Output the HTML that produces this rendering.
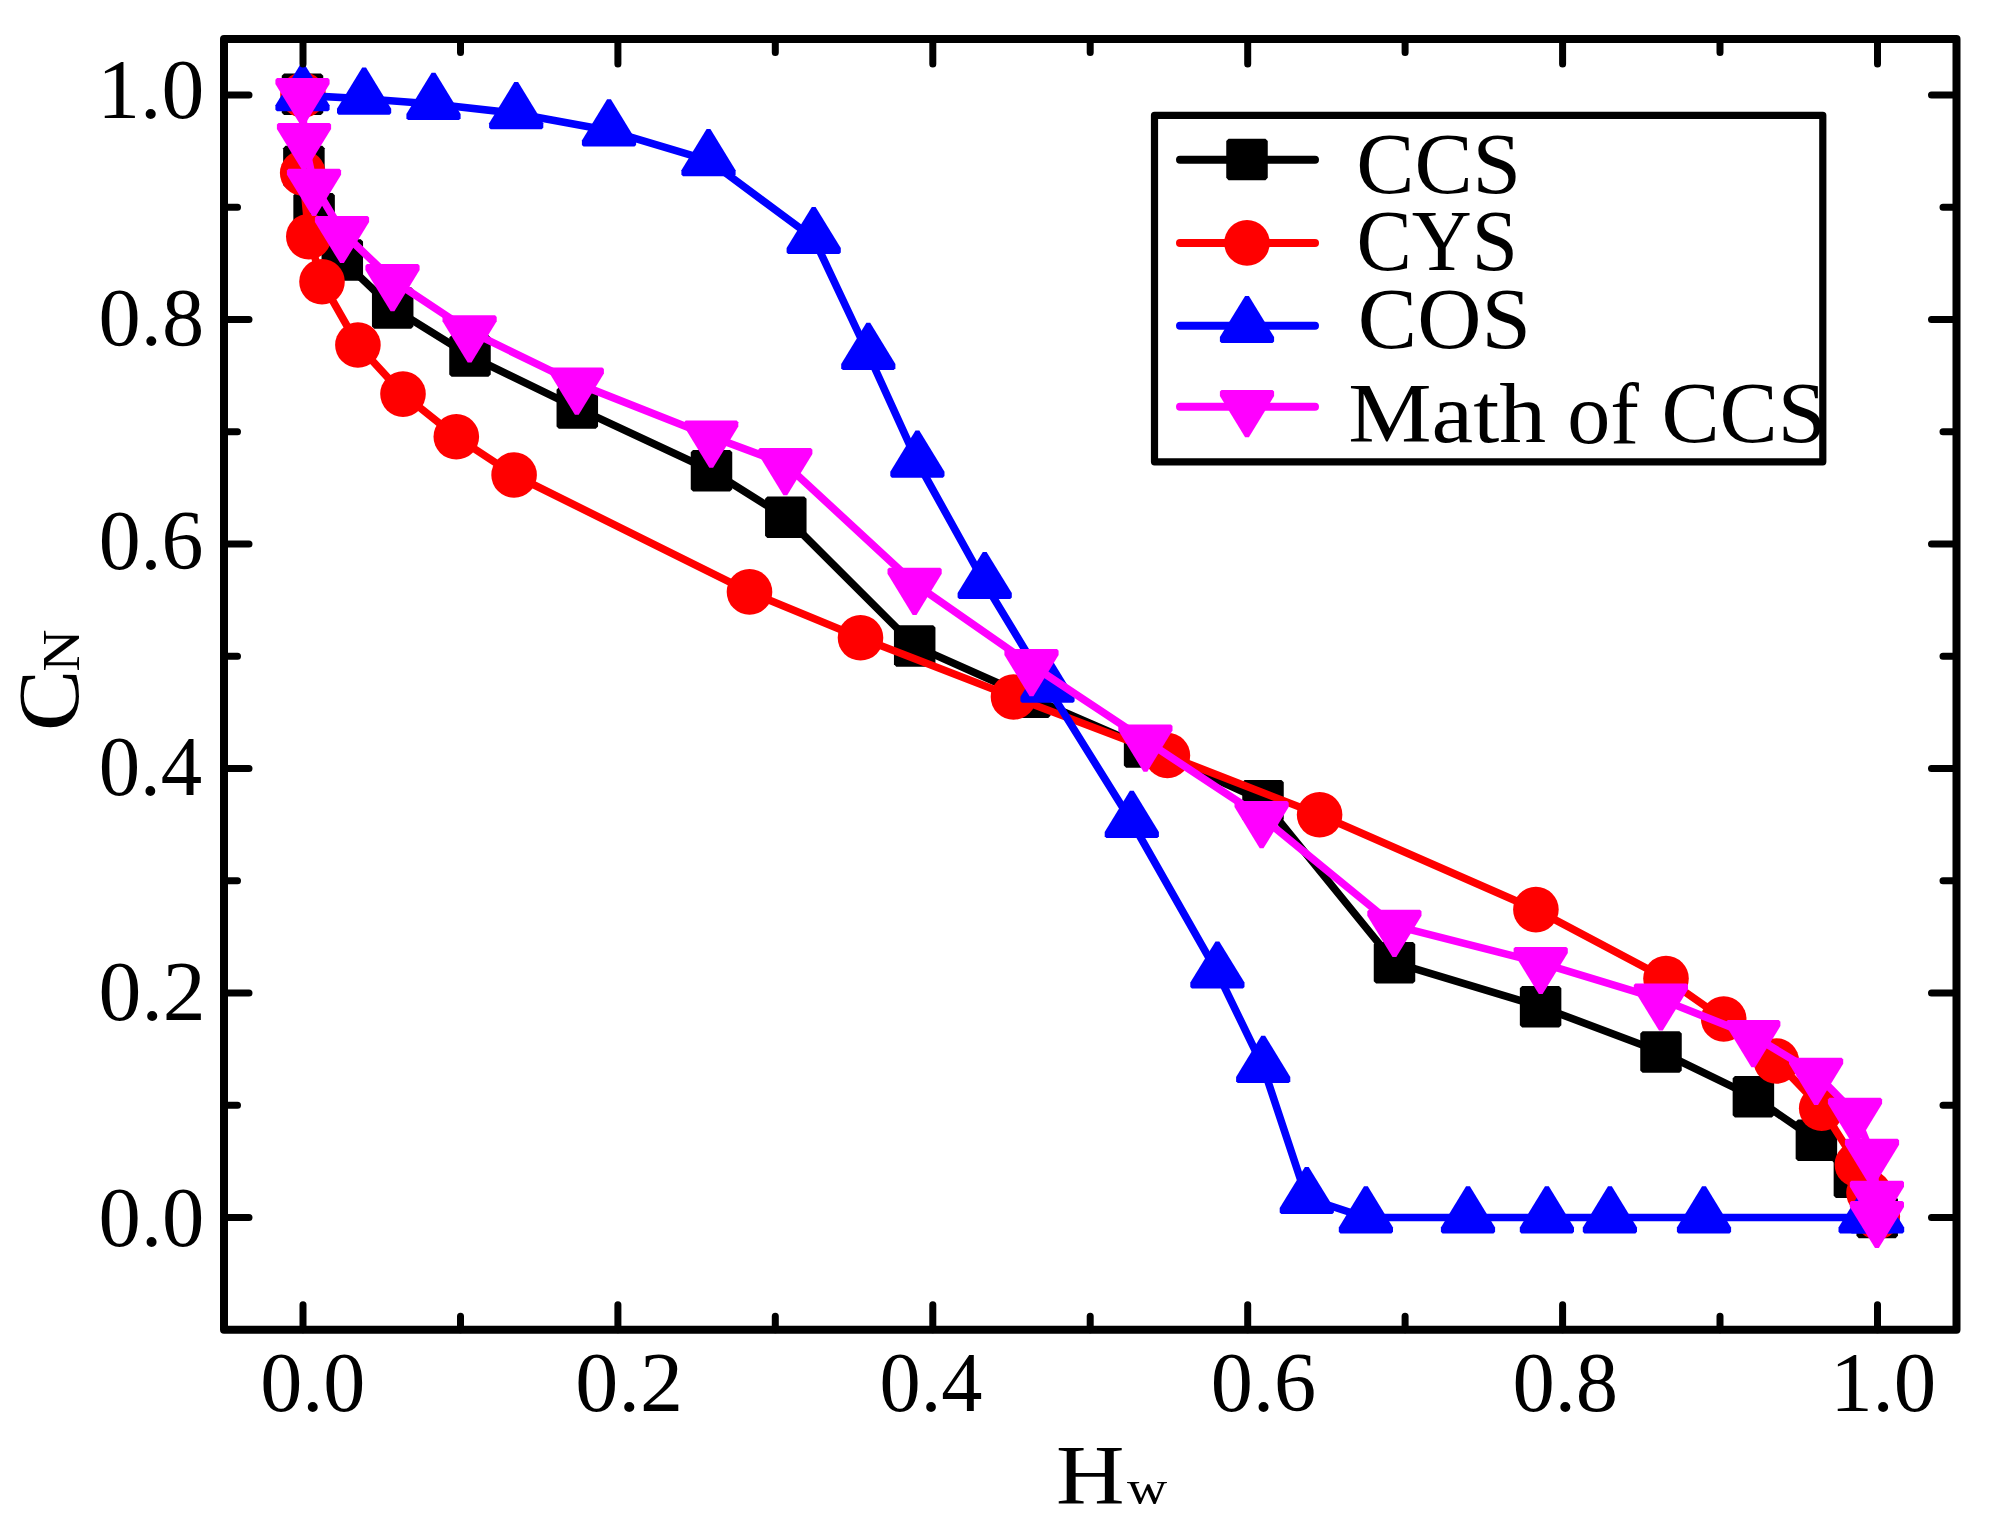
<!DOCTYPE html><html><head><meta charset="utf-8"><title>CN vs Hw</title><style>html,body{margin:0;padding:0;background:#fff;overflow:hidden}svg{display:block}text{font-family:"Liberation Serif","DejaVu Serif",serif;font-size:200px;fill:#000}</style></head><body>
<svg width="1989" height="1528" viewBox="0 0 1989 1528">
<rect width="1989" height="1528" fill="#fff"/>
<polyline points="302.5,94.3 303.9,166.6 314.1,213.7 342.3,260.0 392.7,308.0 470.0,356.0 577.3,408.1 711.5,470.8 785.8,517.3 914.7,645.9 1029.8,697.3 1144.6,747.0 1263.0,800.8 1394.5,962.7 1540.6,1006.7 1661.0,1052.0 1753.4,1096.8 1816.4,1140.2 1854.4,1177.3 1877.2,1217.4" fill="none" stroke="#000" stroke-width="7.6" stroke-linejoin="round" stroke-linecap="round"/>
<polygon points="284.05,73.55 320.95,73.55 323.25,75.85 323.25,112.75 320.95,115.05 284.05,115.05 281.75,112.75 281.75,75.85" fill="#000"/><polygon points="285.45,145.85 322.35,145.85 324.65,148.15 324.65,185.05 322.35,187.35 285.45,187.35 283.15,185.05 283.15,148.15" fill="#000"/><polygon points="295.65,192.95 332.55,192.95 334.85,195.25 334.85,232.15 332.55,234.45 295.65,234.45 293.35,232.15 293.35,195.25" fill="#000"/><polygon points="323.85,239.25 360.75,239.25 363.05,241.55 363.05,278.45 360.75,280.75 323.85,280.75 321.55,278.45 321.55,241.55" fill="#000"/><polygon points="374.25,287.25 411.15,287.25 413.45,289.55 413.45,326.45 411.15,328.75 374.25,328.75 371.95,326.45 371.95,289.55" fill="#000"/><polygon points="451.55,335.25 488.45,335.25 490.75,337.55 490.75,374.45 488.45,376.75 451.55,376.75 449.25,374.45 449.25,337.55" fill="#000"/><polygon points="558.85,387.35 595.75,387.35 598.05,389.65 598.05,426.55 595.75,428.85 558.85,428.85 556.55,426.55 556.55,389.65" fill="#000"/><polygon points="693.05,450.05 729.95,450.05 732.25,452.35 732.25,489.25 729.95,491.55 693.05,491.55 690.75,489.25 690.75,452.35" fill="#000"/><polygon points="767.35,496.55 804.25,496.55 806.55,498.85 806.55,535.75 804.25,538.05 767.35,538.05 765.05,535.75 765.05,498.85" fill="#000"/><polygon points="896.25,625.15 933.15,625.15 935.45,627.45 935.45,664.35 933.15,666.65 896.25,666.65 893.95,664.35 893.95,627.45" fill="#000"/><polygon points="1011.35,676.55 1048.25,676.55 1050.55,678.85 1050.55,715.75 1048.25,718.05 1011.35,718.05 1009.05,715.75 1009.05,678.85" fill="#000"/><polygon points="1126.15,726.25 1163.05,726.25 1165.35,728.55 1165.35,765.45 1163.05,767.75 1126.15,767.75 1123.85,765.45 1123.85,728.55" fill="#000"/><polygon points="1244.55,780.05 1281.45,780.05 1283.75,782.35 1283.75,819.25 1281.45,821.55 1244.55,821.55 1242.25,819.25 1242.25,782.35" fill="#000"/><polygon points="1376.05,941.95 1412.95,941.95 1415.25,944.25 1415.25,981.15 1412.95,983.45 1376.05,983.45 1373.75,981.15 1373.75,944.25" fill="#000"/><polygon points="1522.15,985.95 1559.05,985.95 1561.35,988.25 1561.35,1025.15 1559.05,1027.45 1522.15,1027.45 1519.85,1025.15 1519.85,988.25" fill="#000"/><polygon points="1642.55,1031.25 1679.45,1031.25 1681.75,1033.55 1681.75,1070.45 1679.45,1072.75 1642.55,1072.75 1640.25,1070.45 1640.25,1033.55" fill="#000"/><polygon points="1734.95,1076.05 1771.85,1076.05 1774.15,1078.35 1774.15,1115.25 1771.85,1117.55 1734.95,1117.55 1732.65,1115.25 1732.65,1078.35" fill="#000"/><polygon points="1797.95,1119.45 1834.85,1119.45 1837.15,1121.75 1837.15,1158.65 1834.85,1160.95 1797.95,1160.95 1795.65,1158.65 1795.65,1121.75" fill="#000"/><polygon points="1835.95,1156.55 1872.85,1156.55 1875.15,1158.85 1875.15,1195.75 1872.85,1198.05 1835.95,1198.05 1833.65,1195.75 1833.65,1158.85" fill="#000"/><polygon points="1858.75,1196.65 1895.65,1196.65 1897.95,1198.95 1897.95,1235.85 1895.65,1238.15 1858.75,1238.15 1856.45,1235.85 1856.45,1198.95" fill="#000"/>
<polyline points="303.0,95.0 302.7,173.0 308.8,236.6 322.0,281.8 357.9,345.0 403.0,394.1 456.3,436.8 514.1,475.0 749.5,591.9 860.5,637.8 1013.5,697.0 1167.4,755.5 1319.6,814.8 1535.9,909.6 1666.0,978.6 1723.7,1019.0 1776.3,1061.0 1821.7,1108.3 1857.4,1164.5 1869.0,1193.0 1877.3,1216.6" fill="none" stroke="#f00" stroke-width="7.6" stroke-linejoin="round" stroke-linecap="round"/>
<circle cx="303.0" cy="95.0" r="22.8" fill="#f00"/><circle cx="302.7" cy="173.0" r="22.8" fill="#f00"/><circle cx="308.8" cy="236.6" r="22.8" fill="#f00"/><circle cx="322.0" cy="281.8" r="22.8" fill="#f00"/><circle cx="357.9" cy="345.0" r="22.8" fill="#f00"/><circle cx="403.0" cy="394.1" r="22.8" fill="#f00"/><circle cx="456.3" cy="436.8" r="22.8" fill="#f00"/><circle cx="514.1" cy="475.0" r="22.8" fill="#f00"/><circle cx="749.5" cy="591.9" r="22.8" fill="#f00"/><circle cx="860.5" cy="637.8" r="22.8" fill="#f00"/><circle cx="1013.5" cy="697.0" r="22.8" fill="#f00"/><circle cx="1167.4" cy="755.5" r="22.8" fill="#f00"/><circle cx="1319.6" cy="814.8" r="22.8" fill="#f00"/><circle cx="1535.9" cy="909.6" r="22.8" fill="#f00"/><circle cx="1666.0" cy="978.6" r="22.8" fill="#f00"/><circle cx="1723.7" cy="1019.0" r="22.8" fill="#f00"/><circle cx="1776.3" cy="1061.0" r="22.8" fill="#f00"/><circle cx="1821.7" cy="1108.3" r="22.8" fill="#f00"/><circle cx="1857.4" cy="1164.5" r="22.8" fill="#f00"/><circle cx="1869.0" cy="1193.0" r="22.8" fill="#f00"/><circle cx="1877.3" cy="1216.6" r="22.8" fill="#f00"/>
<polyline points="302.5,95.4 364.1,98.8 433.5,104.0 516.2,113.4 609.0,130.6 708.5,160.3 813.7,238.2 868.3,354.0 917.4,461.8 984.7,583.2 1047.5,686.9 1131.8,822.0 1217.4,972.7 1263.2,1067.0 1306.8,1198.2 1365.9,1217.5 1468.0,1217.5 1546.9,1217.5 1609.9,1217.5 1704.0,1217.5 1865.6,1217.5 1877.1,1217.5" fill="none" stroke="#00f" stroke-width="7.6" stroke-linejoin="round" stroke-linecap="round"/>
<polygon points="300.60,64.10 304.40,64.10 329.60,105.30 329.60,109.70 328.00,111.30 277.00,111.30 275.40,109.70 275.40,105.30" fill="#00f"/><polygon points="362.20,67.50 366.00,67.50 391.20,108.70 391.20,113.10 389.60,114.70 338.60,114.70 337.00,113.10 337.00,108.70" fill="#00f"/><polygon points="431.60,72.70 435.40,72.70 460.60,113.90 460.60,118.30 459.00,119.90 408.00,119.90 406.40,118.30 406.40,113.90" fill="#00f"/><polygon points="514.30,82.10 518.10,82.10 543.30,123.30 543.30,127.70 541.70,129.30 490.70,129.30 489.10,127.70 489.10,123.30" fill="#00f"/><polygon points="607.10,99.30 610.90,99.30 636.10,140.50 636.10,144.90 634.50,146.50 583.50,146.50 581.90,144.90 581.90,140.50" fill="#00f"/><polygon points="706.60,129.00 710.40,129.00 735.60,170.20 735.60,174.60 734.00,176.20 683.00,176.20 681.40,174.60 681.40,170.20" fill="#00f"/><polygon points="811.80,206.90 815.60,206.90 840.80,248.10 840.80,252.50 839.20,254.10 788.20,254.10 786.60,252.50 786.60,248.10" fill="#00f"/><polygon points="866.40,322.70 870.20,322.70 895.40,363.90 895.40,368.30 893.80,369.90 842.80,369.90 841.20,368.30 841.20,363.90" fill="#00f"/><polygon points="915.50,430.50 919.30,430.50 944.50,471.70 944.50,476.10 942.90,477.70 891.90,477.70 890.30,476.10 890.30,471.70" fill="#00f"/><polygon points="982.80,551.90 986.60,551.90 1011.80,593.10 1011.80,597.50 1010.20,599.10 959.20,599.10 957.60,597.50 957.60,593.10" fill="#00f"/><polygon points="1045.60,655.60 1049.40,655.60 1074.60,696.80 1074.60,701.20 1073.00,702.80 1022.00,702.80 1020.40,701.20 1020.40,696.80" fill="#00f"/><polygon points="1129.90,790.70 1133.70,790.70 1158.90,831.90 1158.90,836.30 1157.30,837.90 1106.30,837.90 1104.70,836.30 1104.70,831.90" fill="#00f"/><polygon points="1215.50,941.40 1219.30,941.40 1244.50,982.60 1244.50,987.00 1242.90,988.60 1191.90,988.60 1190.30,987.00 1190.30,982.60" fill="#00f"/><polygon points="1261.30,1035.70 1265.10,1035.70 1290.30,1076.90 1290.30,1081.30 1288.70,1082.90 1237.70,1082.90 1236.10,1081.30 1236.10,1076.90" fill="#00f"/><polygon points="1304.90,1166.90 1308.70,1166.90 1333.90,1208.10 1333.90,1212.50 1332.30,1214.10 1281.30,1214.10 1279.70,1212.50 1279.70,1208.10" fill="#00f"/><polygon points="1364.00,1186.20 1367.80,1186.20 1393.00,1227.40 1393.00,1231.80 1391.40,1233.40 1340.40,1233.40 1338.80,1231.80 1338.80,1227.40" fill="#00f"/><polygon points="1466.10,1186.20 1469.90,1186.20 1495.10,1227.40 1495.10,1231.80 1493.50,1233.40 1442.50,1233.40 1440.90,1231.80 1440.90,1227.40" fill="#00f"/><polygon points="1545.00,1186.20 1548.80,1186.20 1574.00,1227.40 1574.00,1231.80 1572.40,1233.40 1521.40,1233.40 1519.80,1231.80 1519.80,1227.40" fill="#00f"/><polygon points="1608.00,1186.20 1611.80,1186.20 1637.00,1227.40 1637.00,1231.80 1635.40,1233.40 1584.40,1233.40 1582.80,1231.80 1582.80,1227.40" fill="#00f"/><polygon points="1702.10,1186.20 1705.90,1186.20 1731.10,1227.40 1731.10,1231.80 1729.50,1233.40 1678.50,1233.40 1676.90,1231.80 1676.90,1227.40" fill="#00f"/><polygon points="1863.70,1186.20 1867.50,1186.20 1892.70,1227.40 1892.70,1231.80 1891.10,1233.40 1840.10,1233.40 1838.50,1231.80 1838.50,1227.40" fill="#00f"/><polygon points="1875.20,1186.20 1879.00,1186.20 1904.20,1227.40 1904.20,1231.80 1902.60,1233.40 1851.60,1233.40 1850.00,1231.80 1850.00,1227.40" fill="#00f"/>
<polyline points="302.5,94.0 304.0,138.8 314.0,184.7 342.0,231.8 392.5,280.0 469.6,331.2 576.8,383.4 711.2,436.5 785.3,464.0 914.6,583.6 1031.5,665.0 1145.4,740.4 1261.6,817.0 1394.4,925.6 1540.7,962.8 1660.9,999.3 1753.3,1036.0 1816.1,1073.7 1855.0,1113.7 1872.0,1154.6 1876.9,1196.6 1876.9,1216.8" fill="none" stroke="#f0f" stroke-width="7.6" stroke-linejoin="round" stroke-linecap="round"/>
<polygon points="300.60,125.30 304.40,125.30 329.60,84.10 329.60,79.70 328.00,78.10 277.00,78.10 275.40,79.70 275.40,84.10" fill="#f0f"/><polygon points="302.10,170.10 305.90,170.10 331.10,128.90 331.10,124.50 329.50,122.90 278.50,122.90 276.90,124.50 276.90,128.90" fill="#f0f"/><polygon points="312.10,216.00 315.90,216.00 341.10,174.80 341.10,170.40 339.50,168.80 288.50,168.80 286.90,170.40 286.90,174.80" fill="#f0f"/><polygon points="340.10,263.10 343.90,263.10 369.10,221.90 369.10,217.50 367.50,215.90 316.50,215.90 314.90,217.50 314.90,221.90" fill="#f0f"/><polygon points="390.60,311.30 394.40,311.30 419.60,270.10 419.60,265.70 418.00,264.10 367.00,264.10 365.40,265.70 365.40,270.10" fill="#f0f"/><polygon points="467.70,362.50 471.50,362.50 496.70,321.30 496.70,316.90 495.10,315.30 444.10,315.30 442.50,316.90 442.50,321.30" fill="#f0f"/><polygon points="574.90,414.70 578.70,414.70 603.90,373.50 603.90,369.10 602.30,367.50 551.30,367.50 549.70,369.10 549.70,373.50" fill="#f0f"/><polygon points="709.30,467.80 713.10,467.80 738.30,426.60 738.30,422.20 736.70,420.60 685.70,420.60 684.10,422.20 684.10,426.60" fill="#f0f"/><polygon points="783.40,495.30 787.20,495.30 812.40,454.10 812.40,449.70 810.80,448.10 759.80,448.10 758.20,449.70 758.20,454.10" fill="#f0f"/><polygon points="912.70,614.90 916.50,614.90 941.70,573.70 941.70,569.30 940.10,567.70 889.10,567.70 887.50,569.30 887.50,573.70" fill="#f0f"/><polygon points="1029.60,696.30 1033.40,696.30 1058.60,655.10 1058.60,650.70 1057.00,649.10 1006.00,649.10 1004.40,650.70 1004.40,655.10" fill="#f0f"/><polygon points="1143.50,771.70 1147.30,771.70 1172.50,730.50 1172.50,726.10 1170.90,724.50 1119.90,724.50 1118.30,726.10 1118.30,730.50" fill="#f0f"/><polygon points="1259.70,848.30 1263.50,848.30 1288.70,807.10 1288.70,802.70 1287.10,801.10 1236.10,801.10 1234.50,802.70 1234.50,807.10" fill="#f0f"/><polygon points="1392.50,956.90 1396.30,956.90 1421.50,915.70 1421.50,911.30 1419.90,909.70 1368.90,909.70 1367.30,911.30 1367.30,915.70" fill="#f0f"/><polygon points="1538.80,994.10 1542.60,994.10 1567.80,952.90 1567.80,948.50 1566.20,946.90 1515.20,946.90 1513.60,948.50 1513.60,952.90" fill="#f0f"/><polygon points="1659.00,1030.60 1662.80,1030.60 1688.00,989.40 1688.00,985.00 1686.40,983.40 1635.40,983.40 1633.80,985.00 1633.80,989.40" fill="#f0f"/><polygon points="1751.40,1067.30 1755.20,1067.30 1780.40,1026.10 1780.40,1021.70 1778.80,1020.10 1727.80,1020.10 1726.20,1021.70 1726.20,1026.10" fill="#f0f"/><polygon points="1814.20,1105.00 1818.00,1105.00 1843.20,1063.80 1843.20,1059.40 1841.60,1057.80 1790.60,1057.80 1789.00,1059.40 1789.00,1063.80" fill="#f0f"/><polygon points="1853.10,1145.00 1856.90,1145.00 1882.10,1103.80 1882.10,1099.40 1880.50,1097.80 1829.50,1097.80 1827.90,1099.40 1827.90,1103.80" fill="#f0f"/><polygon points="1870.10,1185.90 1873.90,1185.90 1899.10,1144.70 1899.10,1140.30 1897.50,1138.70 1846.50,1138.70 1844.90,1140.30 1844.90,1144.70" fill="#f0f"/><polygon points="1875.00,1227.90 1878.80,1227.90 1904.00,1186.70 1904.00,1182.30 1902.40,1180.70 1851.40,1180.70 1849.80,1182.30 1849.80,1186.70" fill="#f0f"/><polygon points="1875.00,1248.10 1878.80,1248.10 1904.00,1206.90 1904.00,1202.50 1902.40,1200.90 1851.40,1200.90 1849.80,1202.50 1849.80,1206.90" fill="#f0f"/>
<rect x="224" y="38.9" width="1732.5" height="1290.8999999999999" fill="none" stroke="#000" stroke-width="8" stroke-linejoin="round"/>
<path d="M303.0 1329.8v-25M303.0 38.9v25M460.5 1329.8v-13.5M460.5 38.9v13.5M617.9 1329.8v-25M617.9 38.9v25M775.3 1329.8v-13.5M775.3 38.9v13.5M932.8 1329.8v-25M932.8 38.9v25M1090.2 1329.8v-13.5M1090.2 38.9v13.5M1247.7 1329.8v-25M1247.7 38.9v25M1405.1 1329.8v-13.5M1405.1 38.9v13.5M1562.6 1329.8v-25M1562.6 38.9v25M1720.0 1329.8v-13.5M1720.0 38.9v13.5M1877.5 1329.8v-25M1877.5 38.9v25M224 1217.5h25M1956.5 1217.5h-25M224 1105.2h13.5M1956.5 1105.2h-13.5M224 993.0h25M1956.5 993.0h-25M224 880.8h13.5M1956.5 880.8h-13.5M224 768.5h25M1956.5 768.5h-25M224 656.2h13.5M1956.5 656.2h-13.5M224 544.0h25M1956.5 544.0h-25M224 431.8h13.5M1956.5 431.8h-13.5M224 319.5h25M1956.5 319.5h-25M224 207.2h13.5M1956.5 207.2h-13.5M224 95.0h25M1956.5 95.0h-25" stroke="#000" stroke-width="7" stroke-linecap="round" fill="none"/>
<text transform="matrix(0.42813 0 0 0.42574 97.19 118.42)">1.0</text>
<text transform="matrix(0.42222 0 0 0.41691 98.62 344.75)">0.8</text>
<text transform="matrix(0.41949 0 0 0.42500 98.64 569.23)">0.6</text>
<text transform="matrix(0.41423 0 0 0.42794 98.69 794.72)">0.4</text>
<text transform="matrix(0.42857 0 0 0.42353 98.57 1020.43)">0.2</text>
<text transform="matrix(0.42308 0 0 0.42647 98.62 1245.52)">0.0</text>
<text transform="matrix(0.42094 0 0 0.42647 260.23 1410.62)">0.0</text>
<text transform="matrix(0.43030 0 0 0.42647 575.36 1410.62)">0.2</text>
<text transform="matrix(0.41172 0 0 0.42647 879.51 1410.62)">0.4</text>
<text transform="matrix(0.42161 0 0 0.42647 1210.83 1410.62)">0.6</text>
<text transform="matrix(0.42308 0 0 0.42647 1512.42 1410.62)">0.8</text>
<text transform="matrix(0.42455 0 0 0.42647 1830.16 1410.62)">1.0</text>
<text transform="matrix(0.47444 0 0 0.42824 1056.05 1504.00)">H</text>
<text transform="matrix(0.27847 0 0 0.24731 1126.90 1503.51)">w</text>
<text transform="matrix(0 -0.45965 0.43209 0 78.04 730.88)">C</text>
<text transform="matrix(0 -0.29254 0.26692 0 78.90 671.86)">N</text>
<rect x="1154.5" y="115.3" width="668.3" height="346.5" fill="#fff"/>
<path d="M1180 159.8H1315" stroke="#000" stroke-width="8" stroke-linecap="round"/>
<polygon points="1228.55,138.65 1265.45,138.65 1267.75,140.95 1267.75,177.85 1265.45,180.15 1228.55,180.15 1226.25,177.85 1226.25,140.95" fill="#000"/>
<path d="M1180 243H1315" stroke="#f00" stroke-width="8" stroke-linecap="round"/>
<circle cx="1247.0" cy="242.9" r="22.8" fill="#f00"/>
<path d="M1180 325.8H1315" stroke="#00f" stroke-width="8" stroke-linecap="round"/>
<polygon points="1245.10,295.90 1248.90,295.90 1274.10,337.10 1274.10,341.50 1272.50,343.10 1221.50,343.10 1219.90,341.50 1219.90,337.10" fill="#00f"/>
<path d="M1180 406.8H1315" stroke="#f0f" stroke-width="8" stroke-linecap="round"/>
<polygon points="1245.10,437.20 1248.90,437.20 1274.10,396.00 1274.10,391.60 1272.50,390.00 1221.50,390.00 1219.90,391.60 1219.90,396.00" fill="#f0f"/>
<text transform="matrix(0.43631 0 0 0.43209 1356.21 192.94)">CCS</text>
<text transform="matrix(0.41491 0 0 0.43209 1356.38 269.94)">CYS</text>
<text transform="matrix(0.44472 0 0 0.43881 1357.84 347.52)">COS</text>
<text transform="matrix(0.46836 0 0 0.42553 1348.29 442.15)">Math</text>
<text transform="matrix(0.43019 0 0 0.42887 1567.26 443.04)">of</text>
<text transform="matrix(0.43603 0 0 0.43507 1661.41 442.23)">CCS</text>
<rect x="1154.5" y="115.3" width="668.3" height="346.5" fill="none" stroke="#000" stroke-width="7.2" stroke-linejoin="round"/>
</svg></body></html>
